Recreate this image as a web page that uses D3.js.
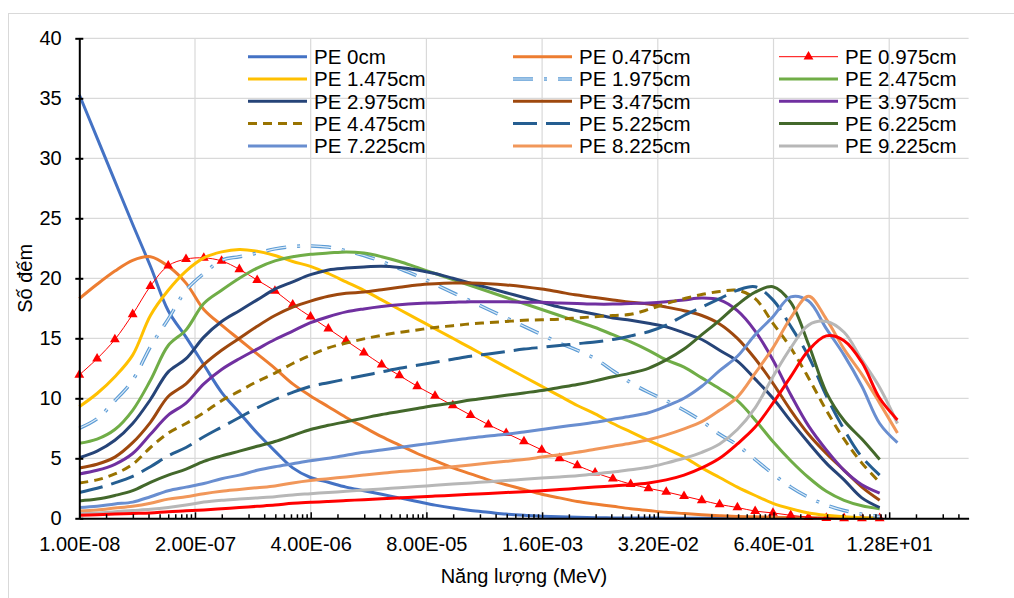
<!DOCTYPE html>
<html>
<head>
<meta charset="utf-8">
<script src="https://cdn.jsdelivr.net/npm/d3@7"></script>
<style>
body { margin: 0; background: #fff; }
svg { display: block; font-family: "Liberation Sans", Arial, sans-serif; }
</style>
</head>
<body>
<script>
// energy bins (MeV), 5 per decade
var energy = [1.000e-8, 1.585e-8, 2.512e-8, 3.981e-8, 6.310e-8,
    1.000e-7, 1.585e-7, 2.512e-7, 3.981e-7, 6.310e-7,
    1.000e-6, 1.585e-6, 2.512e-6, 3.981e-6, 6.310e-6,
    1.000e-5, 1.585e-5, 2.512e-5, 3.981e-5, 6.310e-5,
    1.000e-4, 1.585e-4, 2.512e-4, 3.981e-4, 6.310e-4,
    1.000e-3, 1.585e-3, 2.512e-3, 3.981e-3, 6.310e-3,
    1.000e-2, 1.585e-2, 2.512e-2, 3.981e-2, 6.310e-2,
    1.000e-1, 1.585e-1, 2.512e-1, 3.981e-1, 6.310e-1,
    1.000, 1.585, 2.512, 3.981, 6.310, 10.00, 15.85];

var xTickValues = [1e-8, 2e-7, 4e-6, 8e-5, 1.6e-3, 3.2e-2, 0.64, 12.8];
var xTickLabels = ["1.00E-08", "2.00E-07", "4.00E-06", "8.00E-05", "1.60E-03", "3.20E-02", "6.40E-01", "1.28E+01"];
var yTickValues = [0, 5, 10, 15, 20, 25, 30, 35, 40];

var names = ["PE 0cm", "PE 0.475cm", "PE 0.975cm", "PE 1.475cm", "PE 1.975cm", "PE 2.475cm",
    "PE 2.975cm", "PE 3.475cm", "PE 3.975cm", "PE 4.475cm", "PE 5.225cm", "PE 6.225cm",
    "PE 7.225cm", "PE 8.225cm", "PE 9.225cm", ""];

var pe0 = [35.3, 31.7, 28.1, 24.5, 21.0, 17.3, 15.1, 12.8, 10.5, 8.8, 7.1, 5.6, 4.2, 3.4, 3.0, 2.6, 2.3, 2.0, 1.7, 1.4,
    1.1, 0.85, 0.65, 0.5, 0.35, 0.25, 0.18, 0.12, 0.08, 0.05, 0.03, 0.02, 0.02, 0.01, 0.01, 0.01, 0, 0, 0, 0,
    0, 0, 0, 0, 0, 0, null];
var pe0475 = [18.3, 19.5, 20.6, 21.5, 21.8, 21.0, 19.6, 17.4, 16.1, 14.9, 13.7, 12.5, 11.2, 10.2, 9.3, 8.4, 7.6, 6.8, 6.1, 5.4,
    4.8, 4.2, 3.7, 3.2, 2.8, 2.4, 2.0, 1.7, 1.4, 1.2, 1.0, 0.8, 0.65, 0.5, 0.4, 0.3, 0.22, 0.16, 0.12, 0.08,
    0.06, 0.04, 0.03, 0.02, 0.01, 0.01, null];
var pe0975 = [11.95, 13.3, 14.9, 17.0, 19.35, 21.05, 21.6, 21.7, 21.45, 20.75, 19.85, 18.95, 17.8, 16.8, 15.8, 14.8, 13.8, 12.8, 11.9, 11.0,
    10.2, 9.4, 8.6, 7.8, 7.1, 6.4, 5.7, 5.0, 4.4, 3.8, 3.3, 2.85, 2.5, 2.2, 1.85, 1.5, 1.15, 0.9, 0.6, 0.45,
    0.25, 0.1, 0.02, 0, 0, 0, null];
var pe1475 = [9.3, 10.4, 11.8, 13.6, 16.9, 19.0, 20.6, 21.7, 22.2, 22.4, 22.25, 21.9, 21.4, 21.0, 20.4, 19.7, 19.0, 18.2, 17.4, 16.6,
    15.8, 15.0, 14.2, 13.4, 12.6, 11.8, 11.0, 10.2, 9.4, 8.7, 7.9, 7.2, 6.5, 5.8, 5.1, 4.2, 3.4, 2.6, 1.9, 1.25,
    0.8, 0.45, 0.25, 0.12, 0.05, 0.02, null];
var pe1975 = [7.5, 8.3, 9.8, 11.5, 14.3, 16.6, 19.0, 20.4, 21.5, 21.8, 22.1, 22.45, 22.65, 22.7, 22.6, 22.3, 21.9, 21.4, 20.8, 20.2,
    19.5, 18.8, 18.1, 17.4, 16.7, 16.0, 15.3, 14.6, 14.0, 13.3, 12.3, 11.3, 10.5, 9.8, 9.0, 8.1, 7.0, 6.1, 4.9, 3.7,
    2.6, 1.75, 1.1, 0.65, 0.35, 0.15, null];
var pe2475 = [6.25, 6.6, 7.4, 9.0, 11.5, 14.4, 15.7, 17.9, 19.0, 20.0, 20.85, 21.45, 21.8, 22.0, 22.1, 22.2, 22.1, 21.8, 21.4, 20.9,
    20.4, 19.9, 19.4, 18.9, 18.4, 17.9, 17.4, 16.9, 16.4, 15.9, 15.3, 14.7, 14.0, 13.2, 12.6, 11.7, 10.8, 9.8, 8.2, 6.4,
    4.8, 3.4, 2.25, 1.5, 1.05, 0.8, null];
var pe2975 = [5.05, 5.6, 6.5, 7.9, 9.9, 12.2, 13.3, 15.1, 16.4, 17.3, 18.2, 19.1, 19.7, 20.3, 20.7, 20.85, 20.95, 21.0, 20.9, 20.7,
    20.4, 20.0, 19.6, 19.2, 18.8, 18.4, 18.0, 17.6, 17.3, 17.0, 16.7, 16.5, 16.25, 15.95, 15.45, 14.9, 14.0, 13.1, 11.6, 10.0,
    8.1, 6.3, 4.6, 3.2, 1.7, 0.9, null];
var pe3475 = [4.2, 4.5, 5.1, 6.3, 8.0, 10.15, 11.2, 12.8, 14.0, 15.0, 16.0, 16.9, 17.6, 18.1, 18.5, 18.75, 18.85, 19.05, 19.25, 19.45,
    19.55, 19.6, 19.6, 19.55, 19.45, 19.3, 19.1, 18.85, 18.6, 18.4, 18.2, 18.0, 17.85, 17.6, 17.3, 16.9, 16.2, 15.0, 13.3, 11.25,
    9.0, 7.0, 5.4, 4.0, 2.6, 1.5, null];
var pe3975 = [3.7, 4.0, 4.5, 5.4, 7.0, 8.6, 9.6, 11.2, 12.4, 13.3, 14.1, 14.9, 15.6, 16.3, 16.8, 17.2, 17.45, 17.65, 17.8, 17.9,
    17.95, 18.0, 18.05, 18.05, 18.05, 18.0, 18.0, 17.95, 17.9, 17.85, 17.85, 17.9, 17.95, 18.05, 18.2, 18.35, 18.2, 17.3, 15.6, 13.2,
    10.3, 7.7, 5.7, 4.0, 2.8, 2.1, null];
var pe4475 = [2.95, 3.2, 3.7, 4.5, 5.9, 7.1, 7.9, 8.8, 9.8, 10.6, 11.4, 12.1, 12.9, 13.6, 14.2, 14.6, 14.95, 15.25, 15.5, 15.7,
    15.9, 16.05, 16.2, 16.3, 16.4, 16.5, 16.55, 16.6, 16.7, 16.8, 16.9, 17.0, 17.4, 17.9, 18.3, 18.65, 18.9, 19.0, 18.3, 16.25,
    14.2, 11.7, 9.0, 6.6, 4.6, 3.0, null];
var pe5225 = [2.15, 2.5, 2.95, 3.5, 4.3, 5.2, 5.9, 6.8, 7.6, 8.4, 9.2, 9.9, 10.5, 11.0, 11.3, 11.6, 11.9, 12.2, 12.5, 12.75,
    13.0, 13.25, 13.5, 13.7, 13.9, 14.1, 14.25, 14.4, 14.55, 14.7, 14.9, 15.2, 15.55, 16.1, 16.9, 17.6, 18.3, 19.0, 19.3, 18.2,
    16.0, 13.5, 10.2, 7.4, 5.1, 3.6, null];
var pe6225 = [1.45, 1.6, 1.9, 2.3, 3.0, 3.6, 4.1, 4.75, 5.2, 5.6, 6.0, 6.4, 6.9, 7.4, 7.75, 8.05, 8.35, 8.65, 8.9, 9.15,
    9.4, 9.6, 9.85, 10.05, 10.25, 10.45, 10.65, 10.9, 11.15, 11.45, 11.8, 12.1, 12.5, 13.2, 14.1, 15.3, 16.5, 17.8, 18.85, 19.3,
    18.0, 14.5, 10.5, 8.15, 6.6, 4.9, null];
var pe7225 = [0.9, 1.0, 1.2, 1.35, 1.8, 2.3, 2.6, 2.9, 3.3, 3.6, 4.0, 4.3, 4.55, 4.8, 5.0, 5.25, 5.5, 5.7, 5.9, 6.1,
    6.3, 6.5, 6.7, 6.85, 7.0, 7.2, 7.4, 7.6, 7.8, 8.0, 8.25, 8.5, 8.8, 9.35, 10.0, 11.0, 12.3, 13.5, 15.3, 16.8,
    18.45, 18.1, 15.8, 13.6, 11.0, 7.9, 6.3];
var pe8225 = [0.6, 0.7, 0.85, 1.0, 1.25, 1.6, 1.8, 2.05, 2.25, 2.4, 2.55, 2.7, 2.95, 3.15, 3.3, 3.45, 3.6, 3.75, 3.9, 4.0,
    4.15, 4.3, 4.45, 4.6, 4.75, 4.9, 5.1, 5.3, 5.5, 5.75, 6.0, 6.25, 6.55, 6.95, 7.45, 8.05, 9.0, 10.1, 12.1, 14.2,
    16.7, 18.5, 16.6, 14.1, 12.0, 9.6, 7.1];
var pe9225 = [0.4, 0.45, 0.55, 0.65, 0.75, 0.9, 1.1, 1.35, 1.5, 1.6, 1.7, 1.8, 1.95, 2.05, 2.15, 2.25, 2.35, 2.45, 2.55, 2.65,
    2.75, 2.85, 2.95, 3.05, 3.15, 3.25, 3.35, 3.45, 3.55, 3.7, 3.85, 4.05, 4.25, 4.6, 5.0, 5.5, 6.2, 7.4, 9.2, 11.8,
    14.2, 16.1, 16.4, 15.5, 13.2, 10.9, 7.9];
var peExtra = [0.25, 0.3, 0.35, 0.4, 0.45, 0.55, 0.62, 0.7, 0.8, 0.9, 1.0, 1.1, 1.25, 1.33, 1.4, 1.48, 1.55, 1.62, 1.7, 1.77,
    1.85, 1.92, 2.0, 2.07, 2.15, 2.22, 2.3, 2.4, 2.5, 2.6, 2.7, 2.8, 2.95, 3.2, 3.6, 4.2, 5.0, 6.2, 7.6, 9.6,
    11.8, 14.0, 15.2, 14.8, 13.0, 10.0, 8.2];

var seriesValues = [pe0, pe0475, pe0975, pe1475, pe1975, pe2475, pe2975, pe3475, pe3975,
    pe4475, pe5225, pe6225, pe7225, pe8225, pe9225, peExtra];

// line styles, same order as names
var styles = [
    {color: "#4472C4", width: 3},
    {color: "#ED7D31", width: 3},
    {color: "#FF0000", width: 1, marker: true},
    {color: "#FFC000", width: 3},
    {color: "#5B9BD5", width: 3.5, dash: "20,11,3,11", inner: "#DDEBF7"},
    {color: "#70AD47", width: 3},
    {color: "#264478", width: 3},
    {color: "#9E480E", width: 3},
    {color: "#7030A0", width: 3},
    {color: "#997300", width: 3, dash: "9,6"},
    {color: "#255E91", width: 3, dash: "24,9"},
    {color: "#43682B", width: 3},
    {color: "#698ED0", width: 3},
    {color: "#F1975A", width: 3},
    {color: "#B7B7B7", width: 3},
    {color: "#FF0000", width: 3}
];

var x = d3.scaleLog().domain([1e-8, 100]).range([79.3, 968.6]);
var y = d3.scaleLinear().domain([0, 40]).range([518.3, 38.3]);

var svg = d3.select("body").append("svg")
    .attr("width", 1014)
    .attr("height", 598);

// chart area border
svg.append("rect")
    .attr("x", 8.5).attr("y", 13.5)
    .attr("width", 1010).attr("height", 600)
    .attr("fill", "#fff")
    .attr("stroke", "#D9D9D9");

// gridlines
svg.append("g").selectAll("line")
    .data(yTickValues.slice(1))
    .enter().append("line")
    .attr("x1", x(1e-8)).attr("x2", x(100))
    .attr("y1", function(d) { return y(d); })
    .attr("y2", function(d) { return y(d); })
    .attr("stroke", "#D9D9D9").attr("stroke-width", 1.2);

svg.append("g").selectAll("line")
    .data(xTickValues.slice(1))
    .enter().append("line")
    .attr("x1", function(d) { return x(d); })
    .attr("x2", function(d) { return x(d); })
    .attr("y1", y(0)).attr("y2", y(40))
    .attr("stroke", "#D9D9D9").attr("stroke-width", 1.2);

// minor tick values: even multiples of each major
var minorTicks = [];
xTickValues.forEach(function(m) {
    for (var j = 2; j < 20; j += 2) {
        if (m * j < 100) minorTicks.push(m * j);
    }
});

// series
var line = d3.line()
    .defined(function(d) { return d[1] != null; })
    .x(function(d) { return x(d[0]); })
    .y(function(d) { return y(d[1]); })
    .curve(d3.curveCatmullRom.alpha(0.5));

var linesGroup = svg.append("g");
seriesValues.forEach(function(vals, k) {
    var st = styles[k];
    var pts = energy.map(function(e, i) { return [e, vals[i]]; });
    linesGroup.append("path")
        .attr("d", line(pts))
        .attr("fill", "none")
        .attr("stroke", st.color)
        .attr("stroke-width", st.width)
        .attr("stroke-dasharray", st.dash || null)
        .attr("stroke-linejoin", "round");
    if (st.inner) {
        linesGroup.append("path")
            .attr("d", line(pts))
            .attr("fill", "none")
            .attr("stroke", st.inner)
            .attr("stroke-width", 1.2)
            .attr("stroke-dasharray", st.dash);
    }
    if (st.marker) {
        linesGroup.append("g").selectAll("path")
            .data(pts.filter(function(d) { return d[1] != null; }))
            .enter().append("path")
            .attr("d", d3.symbol().type(d3.symbolTriangle).size(42))
            .attr("transform", function(d) { return "translate(" + x(d[0]) + "," + y(d[1]) + ")"; })
            .attr("fill", st.color);
    }
});

// x axis
var xAxis = d3.axisBottom(x)
    .tickValues(xTickValues)
    .tickFormat(function(d, i) { return xTickLabels[i]; })
    .tickSizeInner(-6)
    .tickSizeOuter(0)
    .tickPadding(19);
var xAxisGroup = svg.append("g")
    .attr("transform", "translate(0," + y(0) + ")")
    .call(xAxis);
xAxisGroup.select(".domain").attr("stroke", "#000").attr("stroke-width", 2);
xAxisGroup.selectAll(".tick line").attr("stroke", "#000").attr("stroke-width", 1.5);
xAxisGroup.selectAll("text").attr("font-size", 20).attr("fill", "#000")
    .attr("font-family", "Liberation Sans, Arial, sans-serif");

var minorAxis = d3.axisBottom(x)
    .tickValues(minorTicks)
    .tickFormat("")
    .tickSizeInner(-4)
    .tickSizeOuter(0);
var minorGroup = svg.append("g")
    .attr("transform", "translate(0," + y(0) + ")")
    .call(minorAxis);
minorGroup.select(".domain").remove();
minorGroup.selectAll(".tick line").attr("stroke", "#000").attr("stroke-width", 1.5);

// y axis
var yAxis = d3.axisLeft(y)
    .tickValues(yTickValues)
    .tickSizeInner(4)
    .tickSizeOuter(0)
    .tickPadding(13.6);
var yAxisGroup = svg.append("g")
    .attr("transform", "translate(" + x(1e-8) + ",0)")
    .call(yAxis);
yAxisGroup.select(".domain").attr("stroke", "#000").attr("stroke-width", 2);
yAxisGroup.selectAll(".tick line").attr("stroke", "#000").attr("stroke-width", 2).attr("x2", 4).attr("x1", -4);
yAxisGroup.selectAll("text").attr("font-size", 20).attr("fill", "#000")
    .attr("font-family", "Liberation Sans, Arial, sans-serif");

// axis titles
svg.append("text")
    .attr("x", (x(1e-8) + x(100)) / 2)
    .attr("y", 583)
    .attr("text-anchor", "middle")
    .attr("font-size", 20)
    .text("Năng lượng (MeV)");

svg.append("text")
    .attr("transform", "translate(32," + ((y(0) + y(40)) / 2) + ") rotate(-90)")
    .attr("text-anchor", "middle")
    .attr("font-size", 20)
    .text("Số đếm");

// legend, 3 columns
var legendCols = [248, 513, 779];
var legend = svg.append("g");
names.forEach(function(name, k) {
    if (!name) return;
    var st = styles[k];
    var cx = legendCols[k % 3];
    var cy = 56.7 + Math.floor(k / 3) * 22.3;
    legend.append("line")
        .attr("x1", cx).attr("x2", cx + 59)
        .attr("y1", cy).attr("y2", cy)
        .attr("stroke", st.color)
        .attr("stroke-width", st.width)
        .attr("stroke-dasharray", st.dash || null);
    if (st.inner) {
        legend.append("line")
            .attr("x1", cx).attr("x2", cx + 59)
            .attr("y1", cy).attr("y2", cy)
            .attr("stroke", st.inner)
            .attr("stroke-width", 1.2)
            .attr("stroke-dasharray", st.dash);
    }
    if (st.marker) {
        legend.append("path")
            .attr("d", d3.symbol().type(d3.symbolTriangle).size(42))
            .attr("transform", "translate(" + (cx + 29.5) + "," + cy + ")")
            .attr("fill", st.color);
    }
    legend.append("text")
        .attr("x", cx + 66)
        .attr("y", cy + 7.3)
        .attr("font-size", 20.5)
        .text(name);
});
</script>
</body>
</html>
